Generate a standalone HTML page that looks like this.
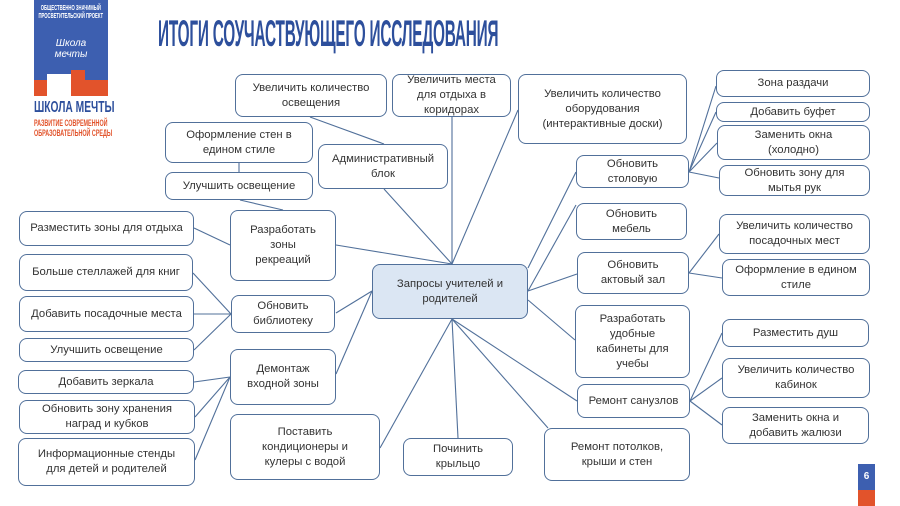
<!DOCTYPE html>
<html><head><meta charset="utf-8"><style>
body{margin:0;width:900px;height:506px;background:#fff;position:relative;overflow:hidden;font-family:"Liberation Sans","Noto Sans CJK SC",sans-serif;}
.b{position:absolute;box-sizing:border-box;border:1.2px solid #51709a;border-radius:8px;background:#fff;display:flex;align-items:center;justify-content:center;text-align:center;font-size:11.3px;line-height:15px;color:#333;}
.t{position:absolute;left:158px;top:13px;font-size:37px;font-weight:bold;color:#2d4f9c;transform:scaleX(0.415);transform-origin:left top;white-space:nowrap;letter-spacing:-0.5px;}
svg{position:absolute;left:0;top:0}
</style></head><body>
<div style="position:absolute;left:34px;top:0;width:74px;height:96px;background:#3d5fb0"></div>
<div style="position:absolute;left:34px;top:80px;width:74px;height:16px;background:#e2532b"></div>
<div style="position:absolute;left:47px;top:74px;width:24px;height:22px;background:#fff"></div>
<div style="position:absolute;left:71px;top:70px;width:14px;height:10px;background:#e2532b"></div>
<div style="position:absolute;left:36px;top:5px;width:116px;font-size:7px;line-height:8px;color:#fff;text-align:center;font-weight:bold;transform:scaleX(0.6);transform-origin:left top;white-space:nowrap">ОБЩЕСТВЕННО ЗНАЧИМЫЙ<br>ПРОСВЕТИТЕЛЬСКИЙ ПРОЕКТ</div>
<div style="position:absolute;left:36px;top:38px;width:70px;font-size:10px;line-height:11px;color:#fff;text-align:center;font-style:italic">Школа<br>мечты</div>
<div style="position:absolute;left:34px;top:99px;font-size:16px;font-weight:bold;color:#2d4f9c;transform:scaleX(0.64);transform-origin:left top;white-space:nowrap">ШКОЛА МЕЧТЫ</div>
<div style="position:absolute;left:34px;top:118px;font-size:9px;line-height:10px;font-weight:bold;color:#e2532b;transform:scaleX(0.6);transform-origin:left top;white-space:nowrap">РАЗВИТИЕ СОВРЕМЕННОЙ<br>ОБРАЗОВАТЕЛЬНОЙ СРЕДЫ</div>
<div class="t">ИТОГИ СОУЧАСТВУЮЩЕГО ИССЛЕДОВАНИЯ</div>
<svg width="900" height="506"><g stroke="#51709a" stroke-width="1.1" fill="none">
<line x1="384" y1="189" x2="452" y2="264"/><line x1="452" y1="117" x2="452" y2="264"/><line x1="518" y1="110" x2="452" y2="264"/>
<line x1="576" y1="172" x2="528" y2="268"/><line x1="576" y1="205" x2="528" y2="291"/><line x1="577" y1="274" x2="528" y2="291"/>
<line x1="575" y1="340" x2="528" y2="300"/><line x1="577" y1="401" x2="452" y2="319"/><line x1="548" y1="428" x2="452" y2="319"/>
<line x1="458" y1="438" x2="452" y2="319"/><line x1="380" y1="448" x2="452" y2="319"/>
<line x1="336" y1="374" x2="372" y2="291"/><line x1="336" y1="313" x2="372" y2="291"/><line x1="336" y1="245" x2="452" y2="264"/>
<line x1="310" y1="117" x2="384" y2="144"/><line x1="239" y1="163" x2="239" y2="172"/><line x1="240" y1="200" x2="283" y2="210"/>
<line x1="194" y1="228" x2="230" y2="245"/><line x1="193" y1="273" x2="231" y2="314"/><line x1="194" y1="314" x2="231" y2="314"/><line x1="194" y1="350" x2="231" y2="314"/>
<line x1="194" y1="382" x2="230" y2="377"/><line x1="195" y1="417" x2="230" y2="377"/><line x1="195" y1="460" x2="230" y2="377"/>
<line x1="689" y1="172" x2="716" y2="86"/><line x1="689" y1="172" x2="716" y2="112"/><line x1="689" y1="172" x2="717" y2="143"/><line x1="689" y1="172" x2="719" y2="178"/>
<line x1="689" y1="273" x2="719" y2="234"/><line x1="689" y1="273" x2="722" y2="278"/>
<line x1="690" y1="401" x2="722" y2="333"/><line x1="690" y1="401" x2="722" y2="378"/><line x1="690" y1="401" x2="722" y2="425"/>
</g></svg>
<div class="b" style="left:235px;top:74px;width:152px;height:43px">Увеличить количество<br>освещения</div>
<div class="b" style="left:392px;top:74px;width:119px;height:43px">Увеличить места<br>для отдыха в<br>коридорах</div>
<div class="b" style="left:518px;top:74px;width:169px;height:70px">Увеличить количество<br>оборудования<br>(интерактивные доски)</div>
<div class="b" style="left:165px;top:122px;width:148px;height:41px">Оформление стен в<br>едином стиле</div>
<div class="b" style="left:318px;top:144px;width:130px;height:45px">Административный<br>блок</div>
<div class="b" style="left:165px;top:172px;width:148px;height:28px">Улучшить освещение</div>
<div class="b" style="left:716px;top:70px;width:154px;height:27px">Зона раздачи</div>
<div class="b" style="left:716px;top:102px;width:154px;height:20px">Добавить буфет</div>
<div class="b" style="left:717px;top:125px;width:153px;height:35px">Заменить окна<br>(холодно)</div>
<div class="b" style="left:719px;top:165px;width:151px;height:31px">Обновить зону для<br>мытья рук</div>
<div class="b" style="left:576px;top:155px;width:113px;height:33px">Обновить<br>столовую</div>
<div class="b" style="left:576px;top:203px;width:111px;height:37px">Обновить<br>мебель</div>
<div class="b" style="left:719px;top:214px;width:151px;height:40px">Увеличить количество<br>посадочных мест</div>
<div class="b" style="left:577px;top:252px;width:112px;height:42px">Обновить<br>актовый зал</div>
<div class="b" style="left:722px;top:259px;width:148px;height:37px">Оформление в едином<br>стиле</div>
<div class="b" style="left:19px;top:211px;width:175px;height:35px">Разместить зоны для отдыха</div>
<div class="b" style="left:230px;top:210px;width:106px;height:71px">Разработать<br>зоны<br>рекреаций</div>
<div class="b" style="left:19px;top:254px;width:174px;height:37px">Больше стеллажей для книг</div>
<div class="b" style="left:19px;top:296px;width:175px;height:36px">Добавить посадочные места</div>
<div class="b" style="left:19px;top:338px;width:175px;height:24px">Улучшить освещение</div>
<div class="b" style="left:231px;top:295px;width:104px;height:38px">Обновить<br>библиотеку</div>
<div class="b" style="left:372px;top:264px;width:156px;height:55px;background:#dbe6f3">Запросы учителей и<br>родителей</div>
<div class="b" style="left:18px;top:370px;width:176px;height:24px">Добавить зеркала</div>
<div class="b" style="left:230px;top:349px;width:106px;height:56px">Демонтаж<br>входной зоны</div>
<div class="b" style="left:19px;top:400px;width:176px;height:34px">Обновить зону хранения<br>наград и кубков</div>
<div class="b" style="left:18px;top:438px;width:177px;height:48px">Информационные стенды<br>для детей и родителей</div>
<div class="b" style="left:230px;top:414px;width:150px;height:66px">Поставить<br>кондиционеры и<br>кулеры с водой</div>
<div class="b" style="left:403px;top:438px;width:110px;height:38px">Починить<br>крыльцо</div>
<div class="b" style="left:575px;top:305px;width:115px;height:73px">Разработать<br>удобные<br>кабинеты для<br>учебы</div>
<div class="b" style="left:577px;top:384px;width:113px;height:34px">Ремонт санузлов</div>
<div class="b" style="left:544px;top:428px;width:146px;height:53px">Ремонт потолков,<br>крыши и стен</div>
<div class="b" style="left:722px;top:319px;width:147px;height:28px">Разместить душ</div>
<div class="b" style="left:722px;top:358px;width:148px;height:40px">Увеличить количество<br>кабинок</div>
<div class="b" style="left:722px;top:407px;width:147px;height:37px">Заменить окна и<br>добавить жалюзи</div>
<div style="position:absolute;left:858px;top:464px;width:17px;height:26px;background:#3d5fb0;color:#fff;font-size:10px;font-weight:bold;text-align:center;line-height:26px">6</div>
<div style="position:absolute;left:858px;top:490px;width:17px;height:16px;background:#e2532b"></div>
</body></html>
